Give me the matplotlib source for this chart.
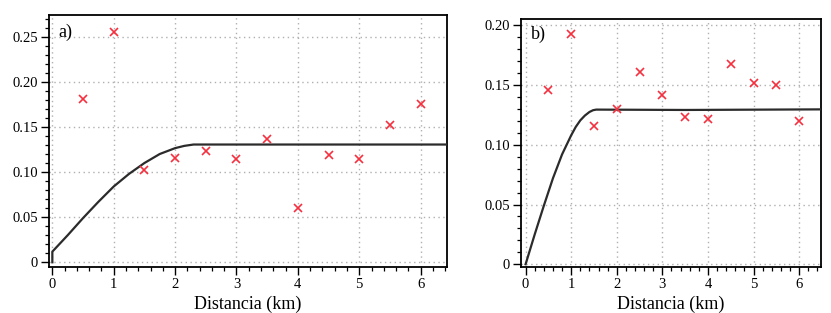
import matplotlib
matplotlib.use("Agg")
import matplotlib.pyplot as plt
from matplotlib.ticker import MultipleLocator, FuncFormatter

plt.rcParams['font.family'] = ['Liberation Serif', 'DejaVu Serif']

# Panel a) data (experimental points)
dist_pts = [0.5, 1.0, 1.5, 2.0, 2.5, 3.0, 3.5, 4.0, 4.5, 5.0, 5.5, 6.0]
gamma_a = [0.181, 0.255, 0.102, 0.116, 0.123, 0.115, 0.137, 0.060, 0.119, 0.114, 0.152, 0.175]
# Panel a) fitted model curve (read from picture)
curve_a_x = [0.0, 0.0, 0.25, 0.5, 0.75, 1.0, 1.25, 1.5, 1.75, 2.0, 2.15, 2.3, 6.5]
curve_a_y = [0.0, 0.0118, 0.030, 0.049, 0.067, 0.084, 0.098, 0.110, 0.120, 0.1265, 0.129, 0.1305, 0.1305]

# Panel b) data
gamma_b = [0.146, 0.193, 0.1155, 0.130, 0.161, 0.1417, 0.123, 0.1216, 0.168, 0.1517, 0.1498, 0.120]
curve_b_x = [0.0, 0.2, 0.4, 0.6, 0.8, 1.0, 1.1, 1.2, 1.3, 1.4, 1.48, 1.55, 3.5, 6.5]
curve_b_y = [0.0, 0.025, 0.049, 0.072, 0.092, 0.108, 0.115, 0.1205, 0.1245, 0.1275, 0.129, 0.1295, 0.1292, 0.1297]

fig = plt.figure(figsize=(8.31, 3.13), dpi=100)
ax1 = fig.add_axes([0.0590, 0.147, 0.4789, 0.805])
ax2 = fig.add_axes([0.627, 0.147, 0.361, 0.792])

def fmt(v, pos):
    if abs(v) < 1e-9:
        return "0"
    return f"{v:.2f}"

def style(ax, xlim, ylim, label):
    ax.set_xlim(*xlim)
    ax.set_ylim(*ylim)
    ax.xaxis.set_major_locator(MultipleLocator(1))
    ax.xaxis.set_minor_locator(MultipleLocator(0.2))
    ax.yaxis.set_major_locator(MultipleLocator(0.05))
    ax.yaxis.set_minor_locator(MultipleLocator(0.01))
    ax.yaxis.set_major_formatter(FuncFormatter(fmt))
    ax.tick_params(which='major', direction='out', length=6, width=1.0, labelsize=10.5, pad=2)
    ax.tick_params(which='minor', direction='out', length=3, width=0.9)
    ax.grid(True, which='major', linestyle=(0, (1, 2.5)), color='#b0b0b0', linewidth=1.0)
    ax.set_axisbelow(True)
    for s in ax.spines.values():
        s.set_linewidth(1.3)
    ax.set_xlabel("Distancia (km)", fontsize=13, labelpad=3)
    ax.text(0.023 if label == 'a)' else 0.033, 0.93 if label == 'a)' else 0.94, label,
            transform=ax.transAxes, fontsize=13, va='center', ha='left')

ax1.plot(curve_a_x, curve_a_y, color='#2b2b2b', lw=1.6, zorder=3)
ax1.plot(dist_pts, gamma_a, linestyle='none', marker='x', color='#f5303f', ms=6, mew=1.2, zorder=4)
style(ax1, (-0.054, 6.43), (-0.0052, 0.274), 'a)')

ax2.plot(curve_b_x, curve_b_y, color='#2b2b2b', lw=1.6, zorder=3)
ax2.plot(dist_pts, gamma_b, linestyle='none', marker='x', color='#f5303f', ms=6, mew=1.2, zorder=4)
style(ax2, (-0.10, 6.48), (-0.0023, 0.2053), 'b)')

fig.savefig("out.png", dpi=100)
